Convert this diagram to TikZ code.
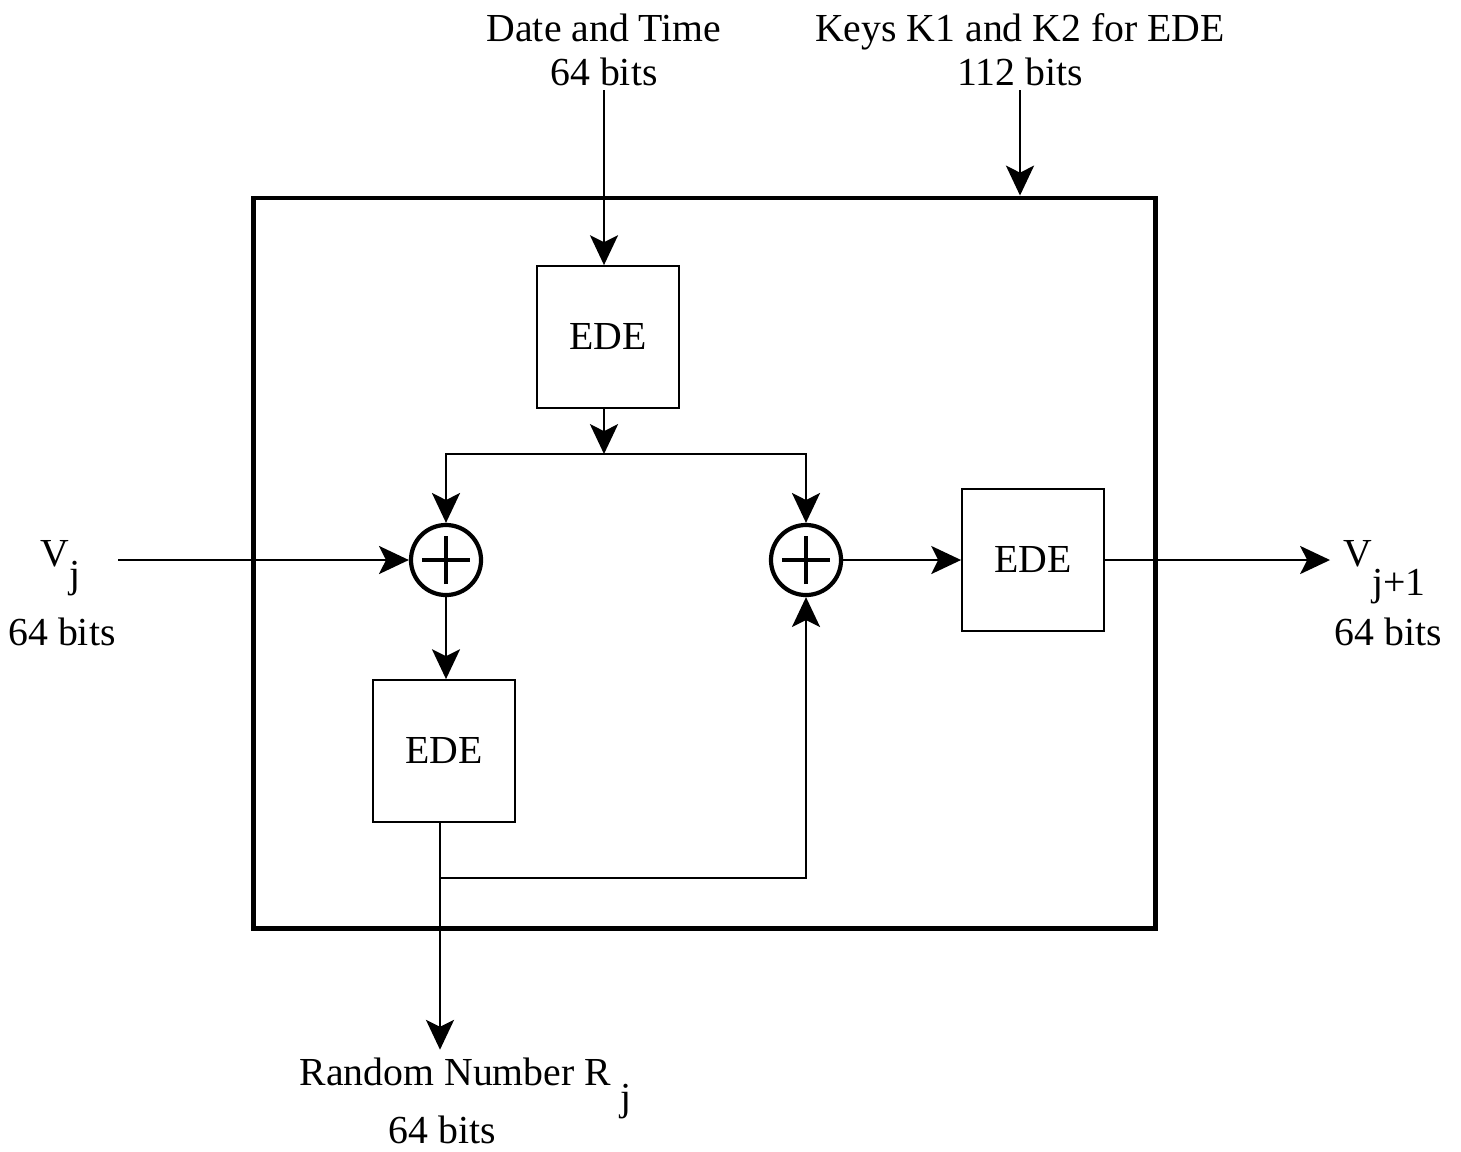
\documentclass[tikz,border=0pt]{standalone}
\usepackage{fontspec}
\setmainfont{Liberation Serif}
\usepackage{tikz}
\usetikzlibrary{positioning, arrows.meta}

\begin{document}
\begin{tikzpicture}[
      x=0.01cm, y=-0.01cm,
      every node/.style={font=\fontsize{11.3}{12.5}\selectfont},
      txt/.style={align=center, inner sep=1pt},
      edebox/.style={draw, line width=0.5pt, minimum width=1.42cm, minimum height=1.42cm, inner sep=0pt},
      xorop/.style={draw, circle, line width=1.2pt, minimum size=0.70cm, inner sep=0pt,
        path picture={\draw[line width=1.4pt]
          ([xshift=-0.24cm]path picture bounding box.center) -- ([xshift=0.24cm]path picture bounding box.center)
          ([yshift=-0.24cm]path picture bounding box.center) -- ([yshift=0.24cm]path picture bounding box.center);}},
      frame/.style={draw, line width=1.3pt, minimum width=9.01cm, minimum height=7.30cm, inner sep=0pt},
      arr/.style={line width=0.5pt, -{Stealth[length=8.5pt, width=8pt, inset=2pt]}},
      wire/.style={line width=0.5pt}
    ]
    \useasboundingbox (0,0) rectangle (1461,1151);

    % generator box
    \node[frame] (gen) at (704.5,563) {};
    \node[edebox] (ede1) at (608,337) {EDE};
    \node[edebox] (ede2) at (444,751) {EDE};
    \node[edebox] (ede3) at (1033,560) {EDE};
    \node[xorop] (xor1) at (446,560) {};
    \node[xorop] (xor2) at (806,560) {};

    % labels
    \node[txt] (date) at (604,50) {Date and Time\\64 bits};
    \node[txt] (keys) at (1020,50) {Keys K1 and K2 for EDE\\112 bits};
    \node[anchor=base west, inner sep=0pt] (vin) at (40,566) {V\raisebox{-0.55em}{j}};
    \node[anchor=base, inner sep=0pt] (vinbits) at (62,645) {64 bits};
    \node[anchor=base west, inner sep=0pt] (vout) at (1343,566) {V\raisebox{-0.75em}{j+1}};
    \node[anchor=base, inner sep=0pt] (voutbits) at (1388,645) {64 bits};
    \node[anchor=base west, inner sep=2pt] (rand) at (292,1085) {Random Number R\ \raisebox{-0.65em}{j}};
    \node[anchor=base, inner sep=0pt] (randbits) at (442,1143) {64 bits};

    \coordinate (split) at (604,454);
    \coordinate (tap) at (440,878);
    \coordinate (vstart) at (118,560);
    \coordinate (vend) at (1330,560);

    \draw[arr] (date.south) -- (date.south |- ede1.north);
    \draw[arr] (keys.south) -- (keys.south |- gen.north);
    \draw[arr] (split |- ede1.south) -- (split);
    \draw[arr] (split) -| (xor1.north);
    \draw[arr] (split) -| (xor2.north);
    \draw[arr] (vstart) -- (xor1.west);
    \draw[arr] (xor1.south) -- (xor1.south |- ede2.north);
    \draw[wire] (ede2.south -| tap) -- (tap);
    \draw[arr] (tap) -| (xor2.south);
    \draw[arr] (tap) -- (tap |- rand.north);
    \draw[arr] (xor2.east) -- (ede3.west);
    \draw[arr] (ede3.east) -- (vend);
  \end{tikzpicture}
\end{document}
